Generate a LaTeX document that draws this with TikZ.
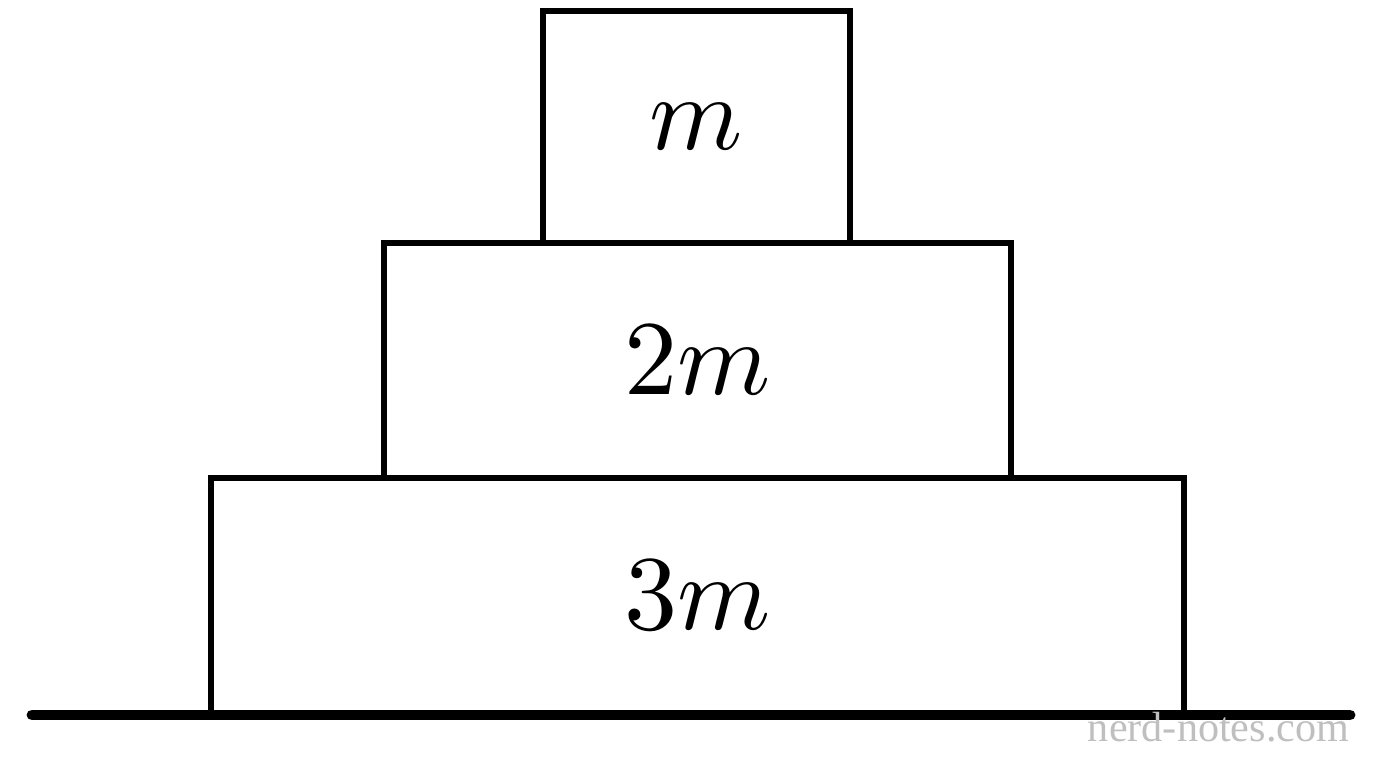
\documentclass[tikz,border=0pt]{standalone}
\usepackage{fontspec}
\usepackage{graphicx}
\newfontfamily\wmfont{Liberation Serif}
\newcommand{\bigmath}[1]{\scalebox{3.02}{$#1$}}
\begin{document}
\begin{tikzpicture}[x=0.01cm,y=-0.01cm,
  block/.style={draw=black,line width=1.6pt,inner sep=0pt},
  ground/.style={line width=3.1pt,line cap=round},
  wm/.style={font=\wmfont\fontsize{12}{14}\selectfont,text=black!25,anchor=base east,inner sep=0pt}]
\useasboundingbox (0,0) rectangle (1376,768);
\node[block,minimum width=9.73cm,minimum height=2.35cm] (bottom) at (697.5,595.5) {\bigmath{3m}};
\node[block,minimum width=6.27cm,minimum height=2.35cm] (middle) at (697.5,360.5) {\bigmath{2m}};
\node[block,minimum width=3.07cm,minimum height=2.32cm] (top) at (696.5,127) {\bigmath{m}};
\coordinate (gl) at (32,715);
\coordinate (gr) at (1350,715);
\draw[ground] (gl) -- (gr);
\node[wm] (mark) at (1350,742) {nerd-notes.com};
\end{tikzpicture}
\end{document}
